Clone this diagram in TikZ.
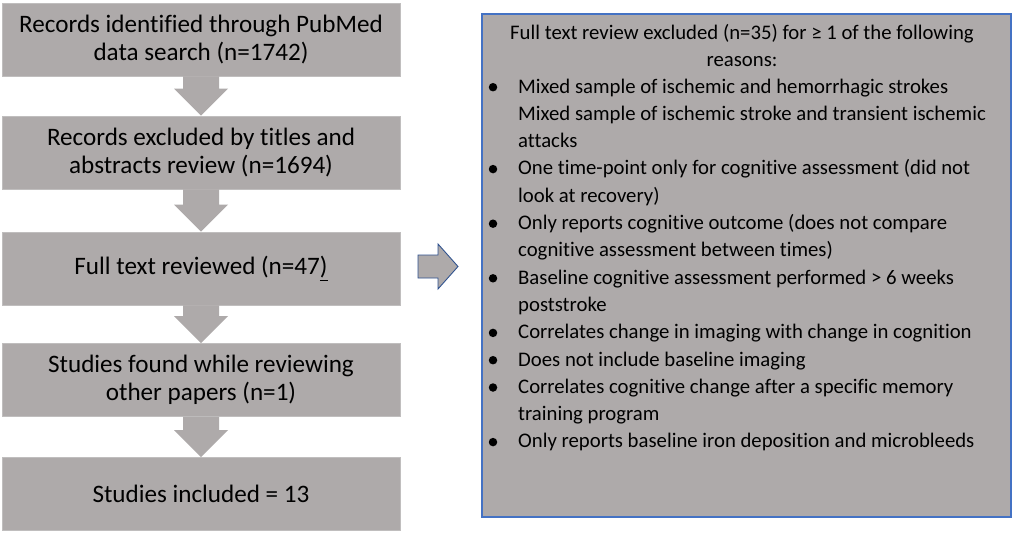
\documentclass[tikz,border=0pt]{standalone}
\usepackage{fontspec}
\setmainfont{Carlito}[Ligatures=NoCommon]
\usetikzlibrary{calc}
\definecolor{boxgray}{RGB}{174,170,170}
\definecolor{edgegray}{RGB}{192,190,190}
\definecolor{bblue}{RGB}{68,114,196}
\definecolor{dblue}{RGB}{47,82,143}
\newlength\mwR
\newlength\mwL
\begin{document}
\settowidth\mwR{\fontsize{10}{12}\selectfont Mixed sample of ischemic and hemorrhagic strokes}%
\settowidth\mwL{\fontsize{10}{12}\selectfont Records excluded by titles and}%
\pgfmathsetmacro\fsR{10*430/\mwR}%
\pgfmathsetmacro\fsL{10*308/\mwL}%
\begin{tikzpicture}[x=1pt,y=-1pt]
\tikzset{
  lbox/.style={draw=edgegray, line width=0.8pt, fill=boxgray, minimum width=398pt, minimum height=73pt,
    inner sep=0pt, align=center, font=\fontsize{\fsL}{28}\selectfont},
  garrow/.style={fill=boxgray},
  rtext/.style={anchor=base west, inner sep=0pt, font=\fontsize{\fsR}{27}\selectfont},
  htext/.style={anchor=base, inner sep=0pt, font=\fontsize{\fsR}{27}\selectfont},
  bul/.style={circle, fill=black, inner sep=0pt, minimum size=8.5pt},
}
\useasboundingbox (0,0) rectangle (1013,533);
\fill[white] (0,0) rectangle (1013,533);

% left column
\node[lbox] (b1) at (201,39.5) {Records identified through PubMed\\data search (n=1742)};
\node[lbox] (b2) at (201,152.5) {Records excluded by titles and\\abstracts review (n=1694)};
\node[lbox] (b3) at (201,268.5) {Full text reviewed (n=47\underline{)}};
\node[lbox] (b4) at (201,380) {Studies found while reviewing\\other papers (n=1)};
\node[lbox] (b5) at (201,494) {Studies included = 13};

\foreach \a/\b in {b1/b2,b2/b3,b3/b4,b4/b5}{
  \fill[garrow] ($(\a.south)+(-18,0)$) -- ($(\a.south)+(18,0)$) -- ($(\b.north)+(18,-27)$)
    -- ($(\b.north)+(27,-27)$) -- (\b.north) -- ($(\b.north)+(-27,-27)$) -- ($(\b.north)+(-18,-27)$) -- cycle;
}

% right arrow
\draw[dblue, line width=0.9pt, fill=boxgray, line join=miter]
  (418,255) -- (438,255) -- (438,244) -- (458,266.5) -- (438,289) -- (438,278) -- (418,278) -- cycle;

% right box
\node[draw=bblue, line width=1.2pt, fill=boxgray, minimum width=529pt, minimum height=503pt, inner sep=0pt]
  (rb) at (746.5,265.5) {};

\node[htext] (h1) at (742,39) {Full text review excluded (n=35) for ≥ 1 of the following};
\node[htext] (h2) at (742,66) {reasons:};

\node[rtext] (l1) at (518,93) {Mixed sample of ischemic and hemorrhagic strokes};
\node[rtext] (l2) at (518,120.3) {Mixed sample of ischemic stroke and transient ischemic};
\node[rtext] (l3) at (518,147.6) {attacks};
\node[rtext] (l4) at (518,174.9) {One time-point only for cognitive assessment (did not};
\node[rtext] (l5) at (518,202.2) {look at recovery)};
\node[rtext] (l6) at (518,229.5) {Only reports cognitive outcome (does not compare};
\node[rtext] (l7) at (518,256.8) {cognitive assessment between times)};
\node[rtext] (l8) at (518,284.1) {Baseline cognitive assessment performed > 6 weeks};
\node[rtext] (l9) at (518,311.4) {poststroke};
\node[rtext] (l10) at (518,338.7) {Correlates change in imaging with change in cognition};
\node[rtext] (l11) at (518,366) {Does not include baseline imaging};
\node[rtext] (l12) at (518,393.3) {Correlates cognitive change after a specific memory};
\node[rtext] (l13) at (518,420.6) {training program};
\node[rtext] (l14) at (518,447.9) {Only reports baseline iron deposition and microbleeds};

\foreach \yy [count=\i] in {93,174.9,229.5,284.1,338.7,366,393.3,447.9}{
  \node[bul] (d\i) at (493,\yy-5.8) {};
}
\end{tikzpicture}
\end{document}
